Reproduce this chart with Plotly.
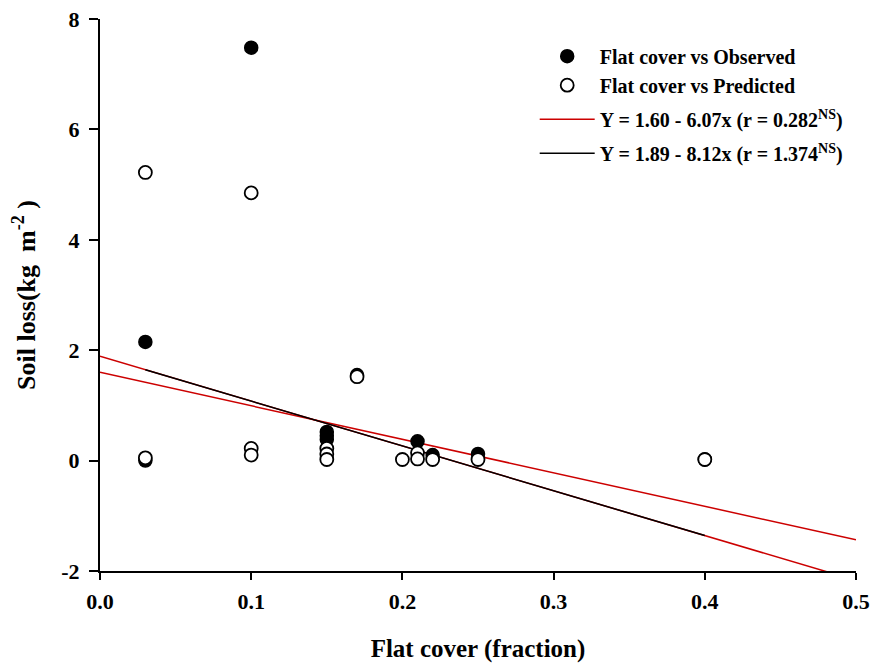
import plotly.graph_objects as go

# ---- data ----
obs_x = [0.03, 0.03, 0.10, 0.15, 0.15, 0.15, 0.17, 0.21, 0.22, 0.25, 0.40]
obs_y = [2.15, 0.00, 7.48, 0.52, 0.45, 0.38, 1.55, 0.35, 0.10, 0.12, 0.02]

pred_x = [0.03, 0.03, 0.10, 0.10, 0.10, 0.15, 0.15, 0.15, 0.17, 0.20, 0.21, 0.21, 0.22, 0.25, 0.40]
pred_y = [5.22, 0.05, 4.85, 0.22, 0.10, 0.22, 0.12, 0.02, 1.52, 0.02, 0.14, 0.03, 0.02, 0.02, 0.02]

fit1_a, fit1_b = 1.60, -6.07   # red line
fit2_a, fit2_b = 1.89, -8.12   # black line
full_x = [0.0, 0.5]
fit2_x = [0.03, 0.40]

x_ticks = [0.0, 0.1, 0.2, 0.3, 0.4, 0.5]
x_labels = ["0.0", "0.1", "0.2", "0.3", "0.4", "0.5"]
y_ticks = [-2, 0, 2, 4, 6, 8]
y_labels = ["-2", "0", "2", "4", "6", "8"]

names = ["Flat cover vs Observed", "Flat cover vs Predicted",
         "Y = 1.60 - 6.07x (r = 0.282<sup>NS</sup>)",
         "Y = 1.89 - 8.12x (r = 1.374<sup>NS</sup>)"]

FONT = "Liberation Serif"

fig = go.Figure()

fig.add_trace(go.Scatter(
    x=full_x, y=[fit1_a + fit1_b * v for v in full_x], mode="lines",
    line=dict(color="#cc0000", width=1.5), name=names[2], legendrank=3,
    legendgroup="l1"))
fig.add_trace(go.Scatter(
    x=full_x, y=[fit2_a + fit2_b * v for v in full_x], mode="lines",
    line=dict(color="#cc0000", width=1.5), showlegend=False))
fig.add_trace(go.Scatter(
    x=fit2_x, y=[fit2_a + fit2_b * v for v in fit2_x], mode="lines",
    line=dict(color="black", width=1.5), name=names[3], legendrank=4,
    legendgroup="l2"))

fig.add_trace(go.Scatter(
    x=obs_x, y=obs_y, mode="markers", name=names[0], legendrank=1,
    legendgroup="pts",
    marker=dict(symbol="circle", size=13, color="black",
                line=dict(color="black", width=1.5))))
fig.add_trace(go.Scatter(
    x=pred_x, y=pred_y, mode="markers", name=names[1], legendrank=2,
    legendgroup="pts",
    marker=dict(symbol="circle", size=13, color="white",
                line=dict(color="black", width=1.8))))

axis_common = dict(showgrid=False, zeroline=False, showline=True,
                   linecolor="black", linewidth=2, ticks="outside",
                   tickcolor="black", tickwidth=1.5, mirror=False,
                   automargin=False, ticklabeloverflow="allow",
                   tickfont=dict(family=FONT, size=22, color="black", weight="bold"))

fig.update_xaxes(range=[0, 0.5], tickvals=x_ticks, ticktext=x_labels,
                 ticklen=7, ticklabelstandoff=3,
                 title=dict(text="Flat cover (fraction)", standoff=26,
                            font=dict(family=FONT, size=25, color="black", weight="bold")),
                 **axis_common)
fig.update_yaxes(range=[-2, 8], tickvals=y_ticks, ticktext=y_labels, ticklen=9,
                 ticklabelstandoff=5,
                 title=dict(text="Soil loss(kg&nbsp;&nbsp;m<sup>-2</sup>&nbsp;)", standoff=18,
                            font=dict(family=FONT, size=26, color="black", weight="bold")),
                 **axis_common)

fig.update_layout(
    width=870, height=663,
    margin=dict(l=100, r=14, t=19, b=92),
    paper_bgcolor="white", plot_bgcolor="white",
    font=dict(family=FONT, color="black", weight="bold"),
    legend=dict(x=0.575, y=0.968, xanchor="left", yanchor="top",
                bgcolor="rgba(0,0,0,0)", tracegroupgap=5, itemwidth=55,
                font=dict(family=FONT, size=20, color="black", weight="bold")),
)

fig.write_html("out.html",
               config={"displayModeBar": False},
               post_script="document.body.style.margin='0';"
                           "document.body.style.overflow='hidden';")
